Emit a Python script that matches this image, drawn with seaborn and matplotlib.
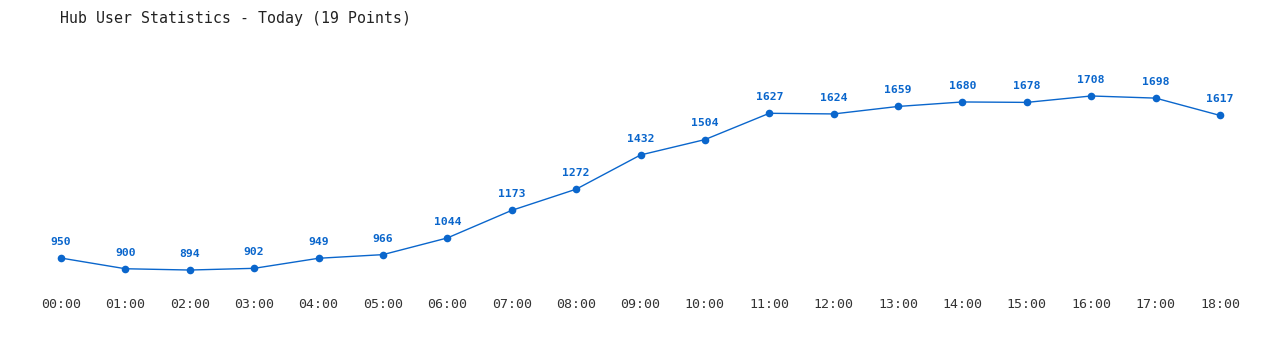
import matplotlib
matplotlib.use("Agg")
import matplotlib.pyplot as plt
import seaborn as sns
import pandas as pd

hours = ["00:00", "01:00", "02:00", "03:00", "04:00", "05:00", "06:00", "07:00", "08:00", "09:00",
         "10:00", "11:00", "12:00", "13:00", "14:00", "15:00", "16:00", "17:00", "18:00"]
users = [950, 900, 894, 902, 949, 966, 1044, 1173, 1272, 1432,
         1504, 1627, 1624, 1659, 1680, 1678, 1708, 1698, 1617]
title = "Hub User Statistics - Today (19 Points)"

sns.set_theme(style="white")
plt.rcParams['font.family'] = ['DejaVu Sans Mono', 'DejaVu Sans']

df = pd.DataFrame({"idx": range(len(hours)), "users": users})

fig = plt.figure(figsize=(12.8, 3.5), dpi=100)
ax = fig.add_axes([61/1280, 1 - 285/350, (1220 - 61)/1280, (285 - 50)/350])
color = "#0a66cc"
sns.lineplot(data=df, x="idx", y="users", ax=ax, color=color, linewidth=1,
             marker="o", markersize=5.5, markeredgewidth=0, markerfacecolor=color)
for i, v in enumerate(users):
    ax.annotate(str(v), (i, v), xytext=(0, 8), textcoords="offset points",
                ha="center", va="bottom", fontsize=8.2, fontweight="bold", color=color)

ax.set_xlim(0, 18)
ax.set_ylim(824, 1923)
ax.set_xticks(range(len(hours)))
ax.set_xticklabels(hours, fontsize=9.5, color="#333333")
ax.set_yticks([])
ax.tick_params(axis="x", length=0, pad=9)
ax.set_xlabel("")
ax.set_ylabel("")
for s in ax.spines.values():
    s.set_visible(False)
ax.set_clip_on(False)
for c in ax.get_children():
    try:
        c.set_clip_on(False)
    except Exception:
        pass

fig.text(60/1280, 1 - 18/350, title, fontsize=10.7, color="#222222", ha="left", va="center")

fig.savefig("out.png", dpi=100, facecolor="white")
